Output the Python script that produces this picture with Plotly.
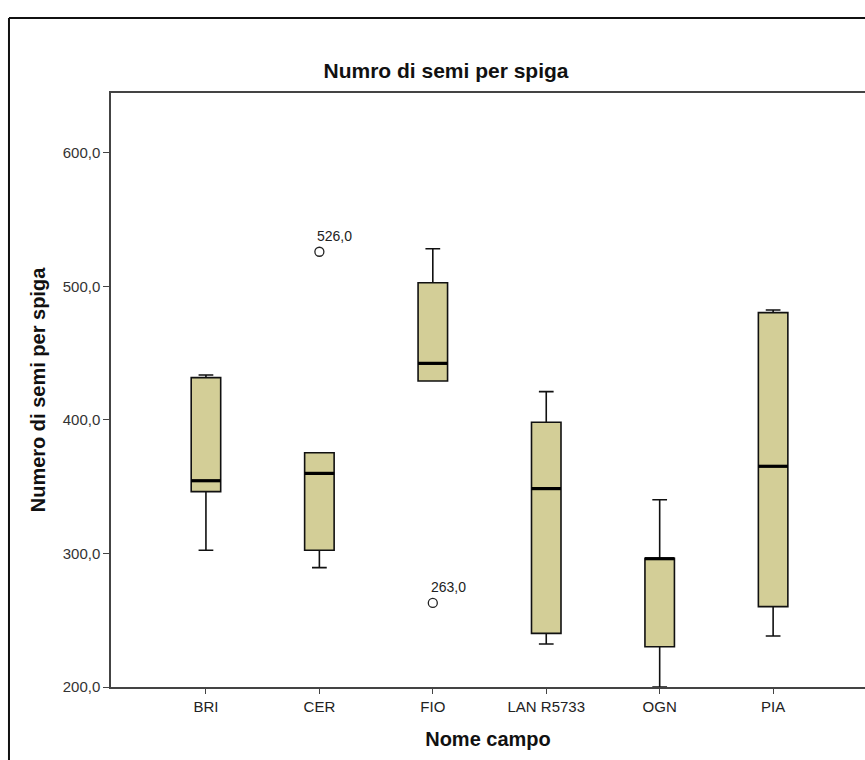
import plotly.graph_objects as go

categories = ["BRI", "CER", "FIO", "LAN R5733", "OGN", "PIA"]
lower_whisker = [302.4, 289.4, 429.2, 232.2, 200.0, 238.2]
q1_vals = [346.3, 302.4, 429.2, 240.2, 230.2, 260.2]
median_vals = [354.5, 360.0, 442.4, 348.6, 296.1, 365.3]
q3_vals = [431.7, 375.5, 502.8, 398.3, 296.4, 480.4]
upper_whisker = [433.7, 375.5, 528.3, 421.2, 340.3, 482.4]
outlier_cat = ["CER", "FIO"]
outlier_vals = [526.0, 263.0]
y_ticks = [200, 300, 400, 500, 600]

FILL = "#D3CE97"
BOX_W = 0.26
FONT = "Liberation Sans, Arial"
xpos = list(range(len(categories)))

fig = go.Figure()
fig.add_trace(go.Box(
    x=xpos, q1=q1_vals, median=median_vals, q3=q3_vals,
    lowerfence=lower_whisker, upperfence=upper_whisker,
    fillcolor=FILL, line=dict(color="#111111", width=1.6),
    width=BOX_W, whiskerwidth=0.5, boxpoints=False, showlegend=False,
    hoverinfo="skip",
))
# thick median lines
for i, m in zip(xpos, median_vals):
    fig.add_trace(go.Scatter(
        x=[i - BOX_W / 2, i + BOX_W / 2], y=[m, m], mode="lines",
        line=dict(color="black", width=3.2), showlegend=False, hoverinfo="skip",
    ))

ox = [categories.index(c) for c in outlier_cat]
fig.add_trace(go.Scatter(
    x=ox, y=outlier_vals, mode="markers",
    marker=dict(symbol="circle-open", size=9, color="#222222", line=dict(width=1.3)),
    showlegend=False, hoverinfo="skip",
))
for x, v in zip(ox, outlier_vals):
    fig.add_annotation(
        x=x, y=v, text=f"{v:.1f}".replace(".", ","), showarrow=False,
        xanchor="left", yanchor="bottom", xshift=-4, yshift=6,
        font=dict(family=FONT, size=14, color="#222222"),
    )

# outer frame lines (left and top)
fig.add_shape(type="line", xref="paper", yref="paper", x0=-0.1353, x1=-0.1353,
              y0=-0.2, y1=1.1263, line=dict(color="#111111", width=2))
fig.add_shape(type="line", xref="paper", yref="paper", x0=-0.1353, x1=1.1,
              y0=1.1263, y1=1.1263, line=dict(color="#111111", width=2))

fig.update_layout(
    width=865, height=760,
    margin=dict(l=111, r=0, t=93, b=73),
    paper_bgcolor="white", plot_bgcolor="white",
    separators=",.",
    title=dict(text="<b>Numro di semi per spiga</b>", x=(446 - 111) / 754, xref="paper",
               xanchor="center", y=1 - 71 / 760, yanchor="middle",
               font=dict(family=FONT, size=21, color="#111111")),
    xaxis=dict(
        range=[-0.837, 5.81], tickvals=xpos, ticktext=categories,
        showline=True, linecolor="#444444", linewidth=1.5, mirror=True,
        ticks="outside", ticklen=5, tickcolor="#444444", showgrid=False, zeroline=False,
        tickfont=dict(family=FONT, size=15, color="#222222"),
        title=dict(text="<b>Nome campo</b>", standoff=18,
                   font=dict(family=FONT, size=20, color="#111111")),
    ),
    yaxis=dict(
        range=[200, 644.9], tickvals=y_ticks, tickformat=".1f",
        showline=True, linecolor="#444444", linewidth=1.5,
        ticks="outside", ticklen=6, tickcolor="#444444", showgrid=False, zeroline=False,
        tickfont=dict(family=FONT, size=15, color="#333333"),
        title=dict(text="<b>Numero di semi per spiga</b>", standoff=12,
                   font=dict(family=FONT, size=20, color="#111111")),
    ),
)

fig.write_html("out.html")
